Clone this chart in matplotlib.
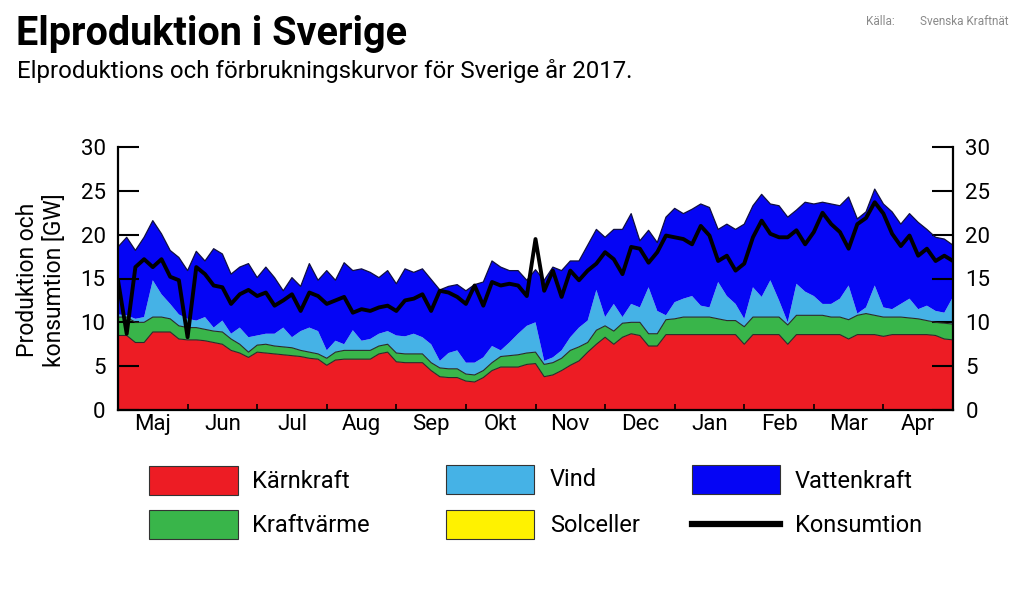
import numpy as np
import matplotlib
matplotlib.use("Agg")
import matplotlib.pyplot as plt
from matplotlib.patches import Rectangle
from matplotlib.lines import Line2D

plt.rcParams['font.family'] = ['Roboto', 'DejaVu Sans']

months = ['Maj', 'Jun', 'Jul', 'Aug', 'Sep', 'Okt', 'Nov', 'Dec', 'Jan', 'Feb', 'Mar', 'Apr']
legend_labels = ['Kärnkraft', 'Vind', 'Vattenkraft', 'Kraftvärme', 'Solceller', 'Konsumtion']

# GW, sampled 8 times per month (May 2017 - Apr 2018)
karnkraft = [8.5, 8.5, 7.7, 7.7, 8.9, 8.9, 8.9, 8.1, 8.0, 8.0, 7.9, 7.7, 7.5, 6.8, 6.5, 6.0, 6.6,
             6.5, 6.4, 6.3, 6.2, 6.1, 5.9, 5.8, 5.1, 5.7, 5.8, 5.8, 5.8, 5.8, 6.4, 6.6, 5.5,
             5.4, 5.4, 5.4, 4.5, 3.8, 3.7, 3.7, 3.3, 3.2, 3.7, 4.5, 4.9, 4.9, 4.9, 5.2, 5.3,
             3.8, 4.0, 4.5, 5.1, 5.6, 6.6, 7.5, 8.3, 7.5, 8.3, 8.7, 8.5, 7.3, 7.3, 8.6, 8.6,
             8.6, 8.6, 8.6, 8.6, 8.6, 8.6, 8.6, 7.5, 8.6, 8.6, 8.6, 8.6, 7.5, 8.6, 8.6, 8.6,
             8.6, 8.6, 8.6, 8.1, 8.6, 8.6, 8.6, 8.4, 8.6, 8.6, 8.6, 8.6, 8.6, 8.5, 8.1, 8.0]
kraftvarme = [2.1, 2.1, 2.3, 2.3, 1.7, 1.7, 1.5, 1.5, 1.4, 1.4, 1.3, 1.3, 1.4, 1.3, 1.0, 0.6, 0.8,
              1.0, 0.9, 0.9, 0.9, 0.7, 0.7, 0.6, 0.8, 0.9, 1.0, 1.0, 1.0, 1.0, 0.9, 0.9, 1.0,
              1.0, 1.0, 1.0, 0.9, 1.0, 1.0, 1.0, 0.8, 0.8, 0.8, 0.9, 1.2, 1.3, 1.4, 1.3, 1.3,
              1.4, 1.4, 1.4, 1.7, 1.6, 1.1, 1.6, 1.3, 1.5, 1.6, 1.3, 1.5, 1.4, 1.4, 1.7, 1.8,
              2.0, 2.0, 2.0, 2.0, 1.8, 1.6, 1.6, 2.0, 2.0, 2.0, 2.0, 2.0, 2.2, 2.2, 2.2, 2.2,
              2.2, 2.0, 2.0, 2.2, 2.2, 2.4, 2.2, 2.2, 2.0, 2.0, 1.9, 1.8, 1.6, 1.5, 1.8, 1.8]
vind = [0.3, 0.2, 0.4, 0.6, 4.2, 2.6, 1.7, 1.3, 1.0, 0.8, 1.4, 0.4, 1.3, 0.6, 1.9, 1.7, 1.1,
        1.2, 1.4, 2.2, 1.2, 2.2, 2.8, 2.6, 0.9, 1.3, 0.7, 2.3, 1.1, 1.3, 1.4, 1.5, 2.0,
        2.0, 2.3, 1.9, 2.1, 0.8, 1.8, 2.1, 1.3, 1.4, 1.5, 1.9, 0.7, 1.5, 2.4, 3.1, 3.4,
        0.4, 0.6, 0.9, 1.5, 2.2, 2.5, 4.6, 1.0, 3.1, 0.7, 2.1, 1.7, 5.3, 2.6, 0.5, 1.9,
        2.1, 2.4, 1.3, 1.1, 4.2, 2.8, 1.9, 0.9, 3.4, 2.3, 4.2, 1.9, 0.3, 3.6, 2.7, 2.2,
        1.3, 1.5, 2.1, 3.9, 0.2, 0.7, 3.4, 1.1, 0.9, 1.5, 2.2, 1.1, 1.7, 1.3, 1.2, 3.1]
solceller = [0.0] * 97
vattenkraft = [7.7, 8.9, 7.8, 9.1, 6.8, 6.9, 6.1, 6.5, 5.5, 7.9, 6.4, 9.0, 7.6, 6.8, 6.9, 8.4, 6.6,
               7.6, 6.4, 4.2, 6.8, 5.1, 7.3, 5.8, 9.1, 6.9, 9.3, 6.8, 8.2, 7.6, 6.4, 6.9, 5.9,
               7.7, 7.0, 7.8, 7.4, 8.1, 7.6, 7.5, 8.2, 8.9, 8.6, 9.7, 9.5, 8.2, 7.2, 5.2, 6.0,
               9.2, 10.3, 9.1, 8.7, 7.6, 8.6, 6.9, 9.1, 8.5, 10.0, 10.3, 7.6, 6.5, 7.8, 11.2, 10.7,
               9.7, 9.9, 11.6, 11.4, 6.0, 8.2, 8.5, 10.8, 9.3, 11.7, 8.7, 10.8, 12.0, 8.4, 10.2, 10.5,
               11.6, 11.4, 10.6, 10.1, 10.8, 10.9, 11.0, 11.8, 11.1, 9.1, 9.7, 9.9, 8.7, 8.4, 8.4, 5.9]
konsumtion = [14.8, 8.7, 16.3, 17.2, 16.3, 17.2, 15.2, 14.8, 8.3, 16.3, 15.5, 14.2, 14.0, 12.1, 13.2, 13.7, 13.0,
              13.4, 11.9, 12.5, 13.2, 11.3, 13.4, 13.0, 12.1, 12.5, 12.9, 11.1, 11.5, 11.3, 11.7, 11.9, 11.3,
              12.5, 12.7, 13.2, 11.3, 13.6, 13.4, 12.9, 12.1, 14.2, 11.9, 14.6, 14.2, 14.4, 14.2, 13.0, 19.5,
              13.6, 15.9, 12.9, 15.9, 14.8, 15.9, 16.7, 18.0, 17.2, 15.5, 18.6, 18.4, 16.8, 18.0, 19.9, 19.7,
              19.5, 18.9, 21.0, 19.9, 17.0, 17.6, 15.9, 16.7, 19.7, 21.6, 20.1, 19.7, 19.7, 20.5, 18.9, 20.3,
              22.5, 21.2, 20.3, 18.4, 21.2, 21.9, 23.7, 22.4, 20.1, 18.7, 19.9, 17.6, 18.4, 17.0, 17.6, 17.0]

C_RED = '#ED1C24'
C_GREEN = '#39B54A'
C_WIND = '#45B2E6'
C_SOLAR = '#FFF200'
C_HYDRO = '#0505F5'

W, H = 1024, 595
fig = plt.figure(figsize=(W / 100, H / 100), dpi=100)

def fx(px):
    return px / W

def fy(py):
    return 1 - py / H

ax = fig.add_axes([fx(118), fy(410), fx(953) - fx(118), fy(147) - fy(410)])

n = len(karnkraft)
x = np.arange(n) / 8.0

ax.stackplot(x, karnkraft, kraftvarme, vind, solceller, vattenkraft,
             colors=[C_RED, C_GREEN, C_WIND, C_SOLAR, C_HYDRO], linewidth=0)
cum = np.cumsum(np.vstack([karnkraft, kraftvarme, vind, vattenkraft]), axis=0)
ax.plot(x, cum[0], color='#2a2a2a', lw=0.8)
ax.plot(x, cum[1], color='#2a2a2a', lw=0.8)
ax.plot(x, cum[3], color='#101040', lw=0.9)
ax.plot(x, konsumtion, color='black', lw=2.8, solid_joinstyle='round')

ax.set_xlim(0, 12)
ax.set_ylim(0, 30)
ax.spines['top'].set_visible(False)
for s in ['left', 'right', 'bottom']:
    ax.spines[s].set_linewidth(1.6)
ax.spines['left'].set_bounds(0, 30)
ax.spines['right'].set_bounds(0, 30)

ax.set_yticks(range(0, 31, 5))
ax.tick_params(axis='y', which='major', direction='in', length=15, width=1.5,
               labelsize=16, pad=9, left=True, right=True, labelleft=True, labelright=True)
ax.set_xticks(range(0, 13))
ax.set_xticklabels([])
ax.set_xticks(np.arange(12) + 0.5, minor=True)
ax.set_xticklabels(months, minor=True)
ax.tick_params(axis='x', which='major', direction='in', length=4, width=1.2)
ax.tick_params(axis='x', which='minor', length=0, labelsize=16, pad=3)

# Titles
fig.text(fx(16), fy(45), 'Elproduktion i Sverige', fontsize=28.5, fontweight='bold', va='baseline', ha='left')
fig.text(fx(17), fy(78), 'Elproduktions och förbrukningskurvor för Sverige år 2017.', fontsize=17.3,
         va='baseline', ha='left')
fig.text(fx(866), fy(25), 'Källa:', fontsize=8.5, color='#8a8a8a', va='baseline', ha='left')
fig.text(fx(920), fy(25), 'Svenska Kraftnät', fontsize=8.5, color='#8a8a8a', va='baseline', ha='left')

fig.text(fx(41), fy(280), 'Produktion och\nkonsumtion [GW]', rotation=90, fontsize=16.5,
         ha='center', va='center', linespacing=1.2)

# Legend
def box(x0, y0, x1, y1, color):
    fig.add_artist(Rectangle((fx(x0), fy(y1)), fx(x1) - fx(x0), fy(y0) - fy(y1),
                             transform=fig.transFigure, facecolor=color,
                             edgecolor='#333333', linewidth=0.8))

box(149, 466, 238, 495, C_RED)
box(446, 465, 534, 494, C_WIND)
box(692, 465, 780, 494, C_HYDRO)
box(149, 510, 238, 539, C_GREEN)
box(446, 510, 534, 539, C_SOLAR)
fig.add_artist(Line2D([fx(692), fx(780)], [fy(524), fy(524)], transform=fig.transFigure,
                      color='black', lw=4.5))

leg_pos = [(252, 481), (550, 480), (795, 481), (252, 526), (550, 525), (795, 526)]
for (lx, ly), lab in zip(leg_pos, legend_labels):
    fig.text(fx(lx), fy(ly), lab, fontsize=17, ha='left', va='center')

fig.savefig('out.png', dpi=100)
